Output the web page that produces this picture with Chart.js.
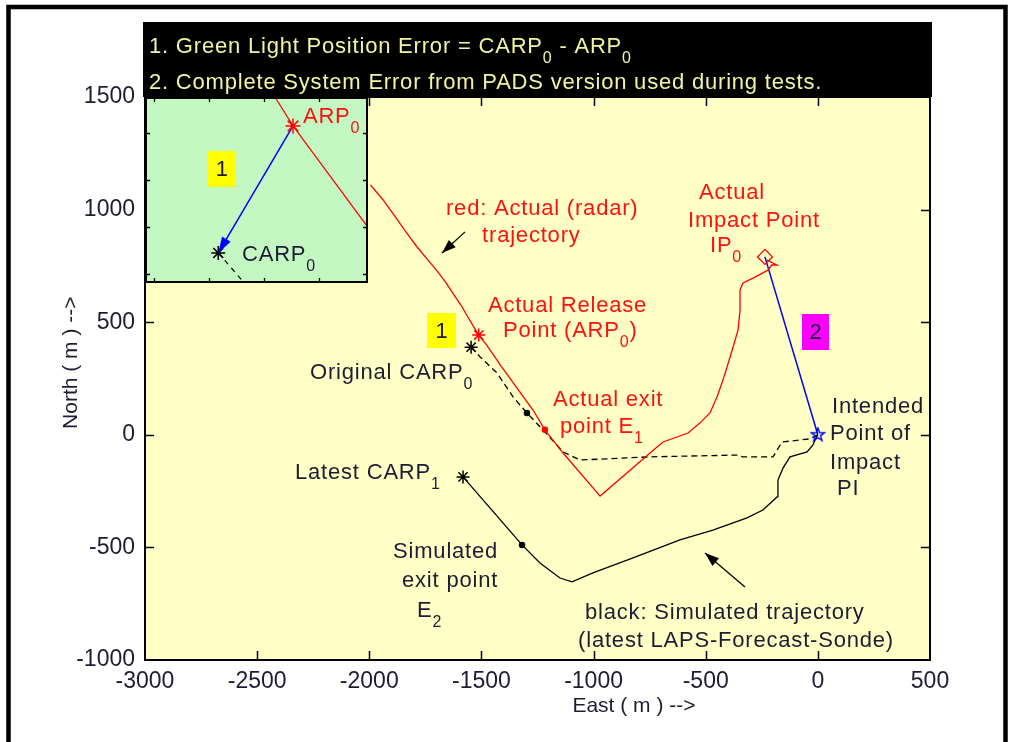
<!DOCTYPE html>
<html>
<head>
<meta charset="utf-8">
<script src="https://cdn.jsdelivr.net/npm/chart.js@4.4.1/dist/chart.umd.min.js"></script>
<style>
  html, body { margin: 0; padding: 0; background: #fff; }
  #wrap { position: relative; width: 1016px; height: 742px; overflow: hidden; }
  #main { position: absolute; left: 0; top: 0; }
  #inset { position: absolute; left: 145px; top: 97px; }
</style>
</head>
<body>
<div id="wrap">
  <canvas id="main" width="1016" height="742"></canvas>
  <canvas id="inset" width="223" height="186"></canvas>
</div>
<script>
// ---- axis ticks (metres) ----
const xTicks = [-3000, -2500, -2000, -1500, -1000, -500, 0, 500];
const yTicks = [-1000, -500, 0, 500, 1000, 1500];

// ---- red: actual (radar) trajectory ----
const radarEast  = [-1995, -1940, -1894, -1840, -1787, -1740, -1698, -1660, -1627, -1590, -1560, -1535, -1520, -1512, -1478, -1417,
                    -1359, -1270, -1217, -1136, -971, -717, -690, -579, -525, -481, -450, -423, -405, -378, -356, -347, -347,
                    -334, -289, -245, -222, -205, -182, -227];
const radarNorth = [1110, 1045, 982, 905, 834, 778, 728, 678, 628, 574, 522, 480, 455, 443, 400, 312,
                    232, 110, 22, -81, -272, -54, -32, 8, 53, 97, 168, 244, 301, 390, 465, 554, 643,
                    674, 696, 719, 732, 754, 754, 776];

// ---- dashed: trajectory from the original CARP0 ----
const carp0East  = [-1546, -1506, -1431, -1359, -1297, -1225, -1136, -1060, -748, -360, -334, -200, -160, -80, -35, 0];
const carp0North = [389, 346, 275, 168, 97, 21, -76, -112, -98, -90, -98, -98, -32, -23, -18, 0];

// ---- black: simulated trajectory (latest LAPS-Forecast-Sonde) ----
const simEast  = [-1582, -1319, -1239, -1150, -1096, -1003, -824, -615, -468, -316, -245, -182, -178, -155, -124, -48, -22, -8, 0];
const simNorth = [-187, -489, -569, -636, -653, -613, -547, -467, -423, -369, -334, -276, -201, -147, -98, -76, -45, -14, 0];

// ---- key points ----
const keyNames = ['ARP0', 'CARP0', 'CARP1', 'E1', 'E0', 'E2', 'IP0', 'PI'];
const keyEast  = [-1512, -1546, -1582, -1217, -1297, -1319, -236, 0];
const keyNorth = [443, 389, -187, 22, 97, -489, 790, 0];

// ---- zoomed view round the release point ----
const insetEast  = [-1579.3, -1477.9];
const insetNorth = [376.2, 455.3];
const insetXTicks = [-1575, -1550, -1525, -1500];
const insetYTicks = [380, 400, 420, 440];

const FONT = "'Liberation Sans', Arial, Helvetica, sans-serif";
const INK = '#1c1c34';

const pts = (ex, ny) => ex.map((e, i) => ({ x: e, y: ny[i] }));
const key = name => { const i = keyNames.indexOf(name); return { x: keyEast[i], y: keyNorth[i] }; };

// text notes anchored in data space (left edge, baseline)
const notes = [
  { t: 'red: Actual (radar)', e: -1658, n: 976, c: '#ff1010' },
  { t: 'trajectory', e: -1497, n: 856, c: '#ff1010' },
  { t: 'Actual Release', e: -1471, n: 545, c: '#ff1010' },
  { t: 'Point (ARP_0)', e: -1404, n: 434, c: '#ff1010' },
  { t: 'Actual', e: -530, n: 1045, c: '#ff1010' },
  { t: 'Impact Point', e: -579, n: 921, c: '#ff1010' },
  { t: 'IP_0', e: -481, n: 810, c: '#ff1010' },
  { t: 'Actual exit', e: -1181, n: 130, c: '#ff1010' },
  { t: 'point E_1', e: -1150, n: 10, c: '#ff1010' },
  { t: 'Original CARP_0', e: -2264, n: 246, c: INK },
  { t: 'Latest CARP_1', e: -2331, n: -198, c: INK },
  { t: 'Simulated', e: -1894, n: -545, c: INK },
  { t: 'exit point', e: -1854, n: -678, c: INK },
  { t: 'E_2', e: -1787, n: -811, c: INK },
  { t: 'black: Simulated trajectory', e: -1038, n: -820, c: INK },
  { t: '(latest LAPS-Forecast-Sonde)', e: -1069, n: -944, c: INK },
  { t: 'Intended', e: 63, n: 99, c: INK },
  { t: 'Point of', e: 54, n: -25, c: INK },
  { t: 'Impact', e: 54, n: -154, c: INK },
  { t: 'PI', e: 85, n: -269, c: INK }
];
// numbered tags (centre in data space, size in px)
const tags = [
  { t: '1', e: -1678, n: 463, w: 29, h: 35, bg: '#ffff00' },
  { t: '2', e: -10, n: 457, w: 27, h: 36, bg: '#ff00ff' }
];
// pointer arrows (tail -> head, data space)
const pointers = [
  { e1: -1573, n1: 901, e2: -1676, n2: 807 },
  { e1: -325, n1: -676, e2: -503, n2: -525 }
];

function richText(ctx, str, x, y, color, size, align) {
  const sub = Math.round(size * 0.72), drop = 10;
  ctx.save();
  ctx.fillStyle = color;
  ctx.textBaseline = 'alphabetic';
  ctx.textAlign = 'left';
  ctx.letterSpacing = '0.8px';
  const parts = str.split(/_(\w)/);
  let w = 0;
  parts.forEach((p, i) => { if (!p) return; ctx.font = (i % 2 ? sub : size) + 'px ' + FONT; w += ctx.measureText(p).width; });
  let cx = align === 'center' ? x - w / 2 : x;
  parts.forEach((p, i) => {
    if (!p) return;
    const isSub = i % 2 === 1;
    ctx.font = (isSub ? sub : size) + 'px ' + FONT;
    ctx.fillText(p, cx, y + (isSub ? drop : 0));
    cx += ctx.measureText(p).width;
  });
  ctx.restore();
}

function arrowHead(ctx, x1, y1, x2, y2, len, half, color) {
  const a = Math.atan2(y2 - y1, x2 - x1);
  const bx = x2 - len * Math.cos(a), by = y2 - len * Math.sin(a);
  ctx.fillStyle = color;
  ctx.beginPath();
  ctx.moveTo(x2, y2);
  ctx.lineTo(bx + half * Math.sin(a), by - half * Math.cos(a));
  ctx.lineTo(bx - half * Math.sin(a), by + half * Math.cos(a));
  ctx.closePath();
  ctx.fill();
}

function tagBox(ctx, cx, cy, w, h, bg, text) {
  ctx.fillStyle = bg;
  ctx.fillRect(Math.round(cx - w / 2), Math.round(cy - h / 2), w, h);
  ctx.fillStyle = INK;
  ctx.font = '22px ' + FONT;
  ctx.textAlign = 'center';
  ctx.textBaseline = 'middle';
  ctx.fillText(text, cx, cy + 1);
}

// blue five-pointed star marker
function pentagram(size, color) {
  const c = document.createElement('canvas');
  c.width = c.height = size;
  const g = c.getContext('2d');
  const R = size / 2 - 1, r = R * 0.4, m = size / 2;
  g.beginPath();
  for (let i = 0; i < 10; i++) {
    const ang = -Math.PI / 2 + i * Math.PI / 5;
    const rr = i % 2 ? r : R;
    const px = m + rr * Math.cos(ang), py = m + rr * Math.sin(ang);
    i ? g.lineTo(px, py) : g.moveTo(px, py);
  }
  g.closePath();
  g.strokeStyle = color;
  g.lineWidth = 1.4;
  g.stroke();
  return c;
}

function inwardTicks(ctx, area, xs, ys, xv, yv, len) {
  ctx.beginPath();
  xv.forEach(v => {
    const p = Math.round(xs.getPixelForValue(v)) + 0.5;
    if (p <= area.left + 1 || p >= area.right - 1) return;
    ctx.moveTo(p, area.bottom); ctx.lineTo(p, area.bottom - len);
    ctx.moveTo(p, area.top); ctx.lineTo(p, area.top + len);
  });
  yv.forEach(v => {
    const p = Math.round(ys.getPixelForValue(v)) + 0.5;
    if (p <= area.top + 1 || p >= area.bottom - 1) return;
    ctx.moveTo(area.left, p); ctx.lineTo(area.left + len, p);
    ctx.moveTo(area.right, p); ctx.lineTo(area.right - len, p);
  });
  ctx.stroke();
}

const mainDecor = {
  id: 'mainDecor',
  beforeDraw(chart) {
    const { ctx, chartArea: a } = chart;
    ctx.save();
    ctx.fillStyle = '#ffffff';
    ctx.fillRect(0, 0, chart.width, chart.height);
    ctx.fillStyle = '#ffffc6';
    ctx.fillRect(a.left, a.top, a.right - a.left, a.bottom - a.top);
    ctx.restore();
  },
  afterDatasetsDraw(chart) {
    const { ctx } = chart;
    const xs = chart.scales.x, ys = chart.scales.y;
    ctx.save();
    // pointer arrows
    ctx.strokeStyle = '#000';
    ctx.lineWidth = 1.3;
    pointers.forEach(p => {
      const x1 = xs.getPixelForValue(p.e1), y1 = ys.getPixelForValue(p.n1);
      const x2 = xs.getPixelForValue(p.e2), y2 = ys.getPixelForValue(p.n2);
      ctx.beginPath(); ctx.moveTo(x1, y1); ctx.lineTo(x2, y2); ctx.stroke();
      arrowHead(ctx, x1, y1, x2, y2, 14, 5, '#000');
    });
    tags.forEach(g => tagBox(ctx, xs.getPixelForValue(g.e), ys.getPixelForValue(g.n), g.w, g.h, g.bg, g.t));
    notes.forEach(n => richText(ctx, n.t, xs.getPixelForValue(n.e), ys.getPixelForValue(n.n), n.c, 22));
    ctx.restore();
  },
  afterDraw(chart) {
    const { ctx, chartArea: a } = chart;
    const xs = chart.scales.x, ys = chart.scales.y;
    ctx.save();
    // axes box with inward ticks
    ctx.strokeStyle = '#000';
    ctx.lineWidth = 1.5;
    inwardTicks(ctx, a, xs, ys, xTicks, yTicks, 9);
    ctx.lineWidth = 2;
    ctx.strokeRect(a.left, a.top, a.right - a.left, a.bottom - a.top);

    // heading box
    ctx.fillStyle = '#000';
    ctx.fillRect(a.left - 2, 22, a.right - a.left + 4, a.top - 22);
    richText(ctx, '1. Green Light Position Error = CARP_0 - ARP_0', a.left + 4, 53, '#f4f4a0', 22);
    richText(ctx, '2. Complete System Error from PADS version used during tests.', a.left + 4, 89, '#f4f4a0', 22);

    // axis titles
    ctx.fillStyle = INK;
    ctx.font = '21px ' + FONT;
    ctx.textAlign = 'center';
    ctx.textBaseline = 'middle';
    ctx.fillText('East ( m ) -->', xs.getPixelForValue(-820), 706);
    ctx.translate(71, ys.getPixelForValue(320));
    ctx.rotate(-Math.PI / 2);
    ctx.fillText('North ( m ) -->', 0, 0);
    ctx.restore();

    // outer figure frame
    ctx.save();
    ctx.strokeStyle = '#000';
    ctx.lineWidth = 4.5;
    ctx.beginPath();
    ctx.moveTo(8.5, 760); ctx.lineTo(8.5, 7); ctx.lineTo(1005.5, 7); ctx.lineTo(1005.5, 760);
    ctx.stroke();
    ctx.restore();
  }
};

const lineDs = (data, color, extra) => Object.assign({
  data, showLine: true, borderColor: color, borderWidth: 1.3, pointRadius: 0, fill: false, order: 2
}, extra || {});
const markDs = (data, style, color, radius, fillColor, extra) => Object.assign({
  data, showLine: false, pointStyle: style, pointRadius: radius, borderColor: color,
  backgroundColor: fillColor, pointBorderWidth: 1.5, order: 0
}, extra || {});

const tickFont = { family: FONT, size: 23 };

new Chart(document.getElementById('main'), {
  type: 'scatter',
  data: {
    datasets: [
      lineDs(pts(radarEast, radarNorth), '#ff0000'),
      lineDs(pts(carp0East, carp0North), '#000000', { borderDash: [6, 4] }),
      lineDs(pts(simEast, simNorth), '#000000'),
      lineDs([key('IP0'), key('PI')], '#0000ff', { borderWidth: 1.5 }),
      markDs([key('ARP0')], 'star', '#ff0000', 6.5, '#ff0000'),
      markDs([key('CARP0'), key('CARP1')], 'star', '#000000', 6.5, '#000000'),
      markDs([key('E1')], 'circle', '#ff0000', 2.5, '#ff0000'),
      markDs([key('E0'), key('E2')], 'circle', '#000000', 2.5, '#000000'),
      markDs([key('IP0')], 'rectRot', '#ff0000', 7.5, 'rgba(0,0,0,0)', { pointBorderWidth: 1.3 }),
      markDs([key('PI')], pentagram(16, '#0000ff'), '#0000ff', 8, '#0000ff')
    ]
  },
  options: {
    responsive: false,
    animation: false,
    events: [],
    layout: { autoPadding: false, padding: { top: 97, right: 86, bottom: 0, left: 0 } },
    plugins: { legend: { display: false }, tooltip: { enabled: false } },
    scales: {
      x: {
        type: 'linear', min: -3000, max: 500,
        grid: { display: false, drawTicks: false }, border: { display: false },
        afterBuildTicks: s => { s.ticks = xTicks.map(v => ({ value: v })); },
        afterFit: s => { s.height = 82; },
        ticks: { font: tickFont, color: INK, padding: 8, maxRotation: 0, autoSkip: false, callback: v => String(v) }
      },
      y: {
        type: 'linear', min: -1000, max: 1500,
        grid: { display: false, drawTicks: false }, border: { display: false },
        afterBuildTicks: s => { s.ticks = yTicks.map(v => ({ value: v })); },
        afterFit: s => { s.width = 145; },
        ticks: { font: tickFont, color: INK, padding: 10, autoSkip: false, callback: v => String(v) }
      }
    }
  },
  plugins: [mainDecor]
});

// ---- zoomed view: green light position error ----
const insetDecor = {
  id: 'insetDecor',
  beforeDraw(chart) {
    const { ctx } = chart;
    ctx.save();
    ctx.fillStyle = '#c3f8c3';
    ctx.fillRect(0, 0, chart.width, chart.height);
    ctx.restore();
  },
  afterDatasetsDraw(chart) {
    const { ctx } = chart;
    const xs = chart.scales.x, ys = chart.scales.y;
    const a = key('ARP0'), c = key('CARP0');
    ctx.save();
    arrowHead(ctx, xs.getPixelForValue(a.x), ys.getPixelForValue(a.y),
              xs.getPixelForValue(c.x), ys.getPixelForValue(c.y), 16, 5, '#0000ff');
    tagBox(ctx, xs.getPixelForValue(-1544.3), ys.getPixelForValue(424.7), 28, 36, '#ffff00', '1');
    richText(ctx, 'ARP_0', xs.getPixelForValue(-1507.5), ys.getPixelForValue(444.2), '#ff1010', 22);
    richText(ctx, 'CARP_0', xs.getPixelForValue(-1535.2), ys.getPixelForValue(385.6), INK, 22);
    ctx.restore();
  },
  afterDraw(chart) {
    const { ctx } = chart;
    const xs = chart.scales.x, ys = chart.scales.y;
    const area = { left: 0, top: 0, right: chart.width, bottom: chart.height };
    ctx.save();
    ctx.strokeStyle = '#000';
    ctx.lineWidth = 1.3;
    inwardTicks(ctx, area, xs, ys, insetXTicks, insetYTicks, 5);
    ctx.lineWidth = 2;
    ctx.strokeRect(1, 1, chart.width - 2, chart.height - 2);
    ctx.restore();
  }
};

new Chart(document.getElementById('inset'), {
  type: 'scatter',
  data: {
    datasets: [
      lineDs(pts(radarEast, radarNorth), '#ff0000', { borderWidth: 1.2 }),
      lineDs(pts(carp0East, carp0North), '#000000', { borderDash: [5, 5], borderWidth: 1.2 }),
      lineDs([key('ARP0'), key('CARP0')], '#0000ff', { borderWidth: 1.5 }),
      markDs([key('ARP0')], 'star', '#ff0000', 7.5, '#ff0000'),
      markDs([key('CARP0')], 'star', '#000000', 7, '#000000')
    ]
  },
  options: {
    responsive: false,
    animation: false,
    events: [],
    layout: { autoPadding: false, padding: 0 },
    plugins: { legend: { display: false }, tooltip: { enabled: false } },
    scales: {
      x: { type: 'linear', min: insetEast[0], max: insetEast[1], display: false },
      y: { type: 'linear', min: insetNorth[0], max: insetNorth[1], display: false }
    }
  },
  plugins: [insetDecor]
});
</script>
</body>
</html>
